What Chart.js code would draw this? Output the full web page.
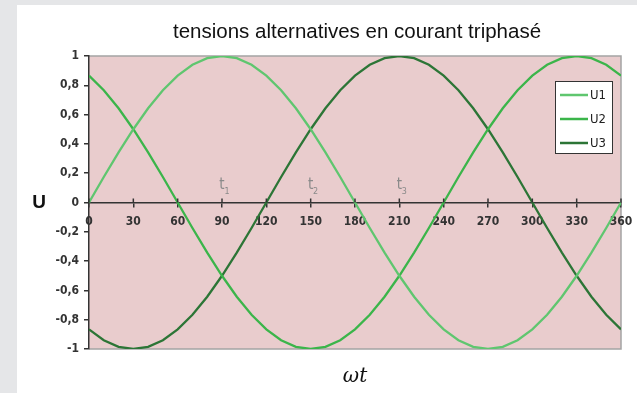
<!DOCTYPE html>
<html>
<head>
<meta charset="utf-8">
<script src="https://cdn.jsdelivr.net/npm/chart.js@4"></script>
<style>
  html, body { margin: 0; padding: 0; background: #e5e6e8; }
  #wrap { width: 637px; height: 393px; position: relative; }
</style>
</head>
<body>
<div id="wrap"><canvas id="myChart" width="637" height="393"></canvas></div>
<script>
// angle (degrees) and the three phase voltages
const angles = [0,10,20,30,40,50,60,70,80,90,100,110,120,130,140,150,160,170,180,
                190,200,210,220,230,240,250,260,270,280,290,300,310,320,330,340,350,360];
const u1 = [0,0.174,0.342,0.5,0.643,0.766,0.866,0.94,0.985,1,0.985,0.94,0.866,0.766,0.643,0.5,0.342,0.174,0,
            -0.174,-0.342,-0.5,-0.643,-0.766,-0.866,-0.94,-0.985,-1,-0.985,-0.94,-0.866,-0.766,-0.643,-0.5,-0.342,-0.174,0];
const u2 = [0.866,0.766,0.643,0.5,0.342,0.174,0,-0.174,-0.342,-0.5,-0.643,-0.766,-0.866,-0.94,-0.985,-1,-0.985,-0.94,-0.866,
            -0.766,-0.643,-0.5,-0.342,-0.174,0,0.174,0.342,0.5,0.643,0.766,0.866,0.94,0.985,1,0.985,0.94,0.866];
const u3 = [-0.866,-0.94,-0.985,-1,-0.985,-0.94,-0.866,-0.766,-0.643,-0.5,-0.342,-0.174,0,0.174,0.342,0.5,0.643,0.766,0.866,
            0.94,0.985,1,0.985,0.94,0.866,0.766,0.643,0.5,0.342,0.174,0,-0.174,-0.342,-0.5,-0.643,-0.766,-0.866];
const seriesNames = ["U1", "U2", "U3"];
const seriesColors = ["#5fc66f", "#3bb54a", "#2c7536"];
// instants marked on the curve maxima
const markAngles = [90, 150, 210];
const markNames = ["1", "2", "3"];

function toPoints(values)
{
    let pts = [];
    for (let i = 0; i < angles.length; i++)
    {
        pts.push({x: angles[i], y: values[i]});
    }
    return pts;
}

const decor = {
    id: 'decor',
    beforeDraw(chart) {
        const ctx = chart.ctx;
        const a = chart.chartArea;
        ctx.save();
        ctx.fillStyle = '#e5e6e8';
        ctx.fillRect(0, 0, chart.width, chart.height);
        ctx.fillStyle = '#ffffff';
        ctx.fillRect(17, 5, chart.width - 17, chart.height - 5);
        ctx.fillStyle = '#e9cccd';
        ctx.fillRect(a.left, a.top, a.right - a.left, a.bottom - a.top);
        // frame of the plot area
        ctx.strokeStyle = '#a4a4a4';
        ctx.lineWidth = 1.5;
        ctx.beginPath();
        ctx.moveTo(a.left, a.top);
        ctx.lineTo(a.right, a.top);
        ctx.lineTo(a.right, a.bottom);
        ctx.lineTo(a.left, a.bottom);
        ctx.stroke();
        ctx.restore();
    },
    afterDraw(chart) {
        const ctx = chart.ctx;
        const a = chart.chartArea;
        const xs = chart.scales.x;
        const ys = chart.scales.y;
        const y0 = ys.getPixelForValue(0);
        ctx.save();
        // upper half of the x tick marks
        ctx.strokeStyle = '#333333';
        ctx.lineWidth = 1.5;
        for (const t of xs.ticks)
        {
            const px = xs.getPixelForValue(t.value);
            ctx.beginPath();
            ctx.moveTo(px, y0);
            ctx.lineTo(px, y0 - 4);
            ctx.stroke();
        }
        // title
        ctx.fillStyle = '#111111';
        ctx.textAlign = 'center';
        ctx.textBaseline = 'middle';
        ctx.font = '20.5px "Liberation Sans", Arial, sans-serif';
        ctx.fillText('tensions alternatives en courant triphasé', 357, 32);
        // axis names
        ctx.font = 'bold 19px "Liberation Sans", sans-serif';
        ctx.fillText('U', 39, y0);
        ctx.font = 'italic 20px "DejaVu Serif", serif';
        ctx.fillText('ωt', (a.left + a.right) / 2, 377);
        // t1 t2 t3
        ctx.fillStyle = '#8a8a8a';
        for (let i = 0; i < markAngles.length; i++)
        {
            const px = xs.getPixelForValue(markAngles[i]);
            ctx.font = '15px "DejaVu Sans Condensed", sans-serif';
            ctx.fillText('t', px, ys.getPixelForValue(0.12));
            ctx.font = '8px "DejaVu Sans", sans-serif';
            ctx.fillText(markNames[i], px + 5, ys.getPixelForValue(0.07));
        }
        // legend box
        const lx = 555, ly = 81, lw = 57, lh = 72;
        ctx.fillStyle = '#ffffff';
        ctx.fillRect(lx, ly, lw, lh);
        ctx.strokeStyle = '#333333';
        ctx.lineWidth = 1;
        ctx.strokeRect(lx + 0.5, ly + 0.5, lw, lh);
        ctx.textAlign = 'left';
        ctx.font = '13px "DejaVu Sans Condensed", sans-serif';
        chart.data.datasets.forEach(function(ds, i) {
            const ry = ly + 14 + i * 24;
            ctx.strokeStyle = ds.borderColor;
            ctx.lineWidth = 2.5;
            ctx.beginPath();
            ctx.moveTo(lx + 5, ry);
            ctx.lineTo(lx + 33, ry);
            ctx.stroke();
            ctx.fillStyle = '#222222';
            ctx.fillText(ds.label, lx + 35, ry + 1);
        });
        ctx.restore();
    }
};

const ctx = document.getElementById('myChart').getContext('2d');
const myChart = new Chart(ctx, {
    type: 'line',
    data: {
        datasets: [
            { label: seriesNames[0], data: toPoints(u1), borderColor: seriesColors[0] },
            { label: seriesNames[1], data: toPoints(u2), borderColor: seriesColors[1] },
            { label: seriesNames[2], data: toPoints(u3), borderColor: seriesColors[2] }
        ]
    },
    options: {
        responsive: false,
        animation: false,
        devicePixelRatio: 1,
        layout: { padding: { left: 0, top: 56, right: 16, bottom: 44 } },
        elements: {
            point: { radius: 0 },
            line: { borderWidth: 2.3, tension: 0 }
        },
        plugins: {
            legend: { display: false },
            tooltip: { enabled: false }
        },
        scales: {
            x: {
                type: 'linear',
                min: 0,
                max: 360,
                position: { y: 0 },
                afterFit: function(scale) {
                    scale.height = 0;
                    scale.paddingLeft = 0;
                    scale.paddingRight = 0;
                },
                border: { color: '#333333', width: 1.5 },
                grid: { drawOnChartArea: false, tickLength: 4, color: '#333333', lineWidth: 1.5 },
                ticks: {
                    stepSize: 30,
                    padding: 8,
                    maxRotation: 0,
                    autoSkip: false,
                    color: '#333333',
                    font: { family: '"DejaVu Sans Condensed", sans-serif', size: 12, weight: 'bold' }
                }
            },
            y: {
                min: -1,
                max: 1,
                afterFit: function(scale) {
                    scale.width = 89;
                    scale.paddingTop = 0;
                    scale.paddingBottom = 0;
                },
                border: { color: '#333333', width: 1.5 },
                grid: { drawOnChartArea: false, tickLength: 5, color: '#333333', lineWidth: 1.5 },
                ticks: {
                    stepSize: 0.2,
                    padding: 5,
                    color: '#333333',
                    font: { family: '"DejaVu Sans Condensed", sans-serif', size: 12, weight: 'bold' },
                    callback: function(v) {
                        const r = Math.round(v * 10) / 10;
                        return String(r).replace('.', ',');
                    }
                }
            }
        }
    },
    plugins: [decor]
});
</script>
</body>
</html>
